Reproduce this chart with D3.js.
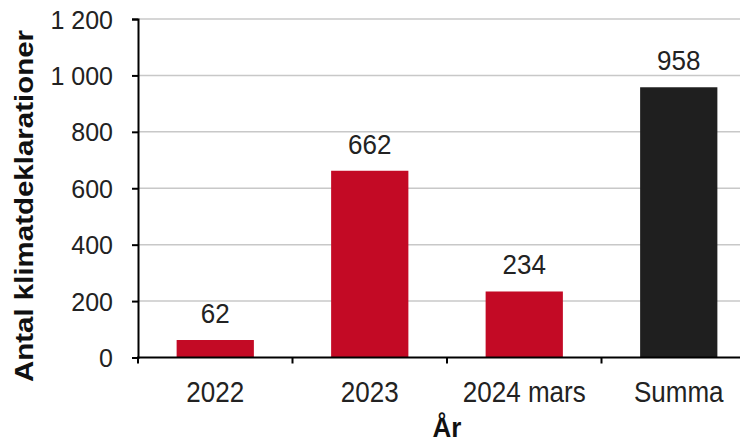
<!DOCTYPE html>
<html><head><meta charset="utf-8">
<script src="https://cdn.jsdelivr.net/npm/d3@7"></script>
<style>body{margin:0;background:#fff}svg{display:block}text{font-family:"Liberation Sans",Arial,sans-serif}</style>
</head><body>
<svg id="c" width="740" height="445"></svg>
<script>
const categories = ["2022","2023","2024 mars","Summa"];
const values = [62, 662, 234, 958];
const colors = ["#c30a25","#c30a25","#c30a25","#1f1f1f"];
const yTicks = [0,200,400,600,800,1000,1200];
const yTitle = "Antal klimatdeklarationer";
const xTitle = "År";

const FF = "'Liberation Sans',Arial,sans-serif";
const svg = d3.select("#c");
const x0 = 138, bandW = 154.5;
const x = d3.scaleBand().domain(categories).range([x0, x0 + bandW*categories.length]).paddingInner(0.5).paddingOuter(0.25);
const y = d3.scaleLinear().domain([0,1200]).range([357.5, 19]);
const fmt = v => d3.format(",")(v).replace(/,/g, " ");

// gridlines
svg.append("g").selectAll("line").data(yTicks.slice(1)).join("line")
  .attr("x1", x0).attr("x2", 740).attr("y1", d=>y(d)).attr("y2", d=>y(d))
  .attr("stroke", "#c8c8c8").attr("stroke-width", 1.5);

// bars
svg.append("g").selectAll("rect").data(values).join("rect")
  .attr("x", (d,i)=>x(categories[i])).attr("width", x.bandwidth())
  .attr("y", d=>y(d)).attr("height", d=>y(0)-y(d))
  .attr("fill", (d,i)=>colors[i]);

// value labels
svg.append("g").selectAll("text").data(values).join("text")
  .attr("transform", (d,i)=>`translate(${x(categories[i]) + x.bandwidth()/2},${y(d)-17}) scale(1,1.06)`)
  .attr("text-anchor","middle").attr("font-size", 26).attr("fill","#222")
  .style("font-family", FF)
  .text(d=>d);

// y axis
const ya = svg.append("g").attr("transform", `translate(${x0},0)`)
  .call(d3.axisLeft(y).tickValues(yTicks).tickFormat(fmt).tickSize(6).tickPadding(19));
ya.select(".domain").attr("stroke","#000").attr("stroke-width",2);
ya.selectAll(".tick line").attr("stroke","#000").attr("stroke-width",2);
ya.selectAll("text").attr("font-size",25).attr("fill","#222").attr("dy","0.36em").style("font-family",FF);

// x axis
svg.append("line").attr("x1", x0-1).attr("x2", 740).attr("y1", y(0)).attr("y2", y(0)).attr("stroke","#000").attr("stroke-width",2);
const bounds = d3.range(categories.length).map(i => x0 + i*bandW);
svg.append("g").selectAll("line").data(bounds).join("line")
  .attr("x1", d=>d).attr("x2", d=>d).attr("y1", y(0)).attr("y2", y(0)+6)
  .attr("stroke","#000").attr("stroke-width",2);
svg.append("g").selectAll("text").data(categories).join("text")
  .attr("transform", d=>`translate(${x(d)+x.bandwidth()/2},402) scale(1,1.16)`)
  .attr("text-anchor","middle").attr("font-size",26).attr("fill","#222")
  .style("font-family",FF)
  .text(d=>d);

// titles
svg.append("text").attr("transform", "translate(33,206) rotate(-90)")
  .attr("text-anchor","middle").attr("font-size",25).attr("font-weight","bold").attr("fill","#111")
  .attr("textLength", 352).attr("lengthAdjust","spacingAndGlyphs")
  .style("font-family",FF)
  .text(yTitle);
svg.append("text").attr("transform", "translate(447,437) scale(1,1.08)")
  .attr("text-anchor","middle").attr("font-size",26).attr("font-weight","bold").attr("fill","#111")
  .style("font-family",FF)
  .text(xTitle);
</script>
</body></html>
